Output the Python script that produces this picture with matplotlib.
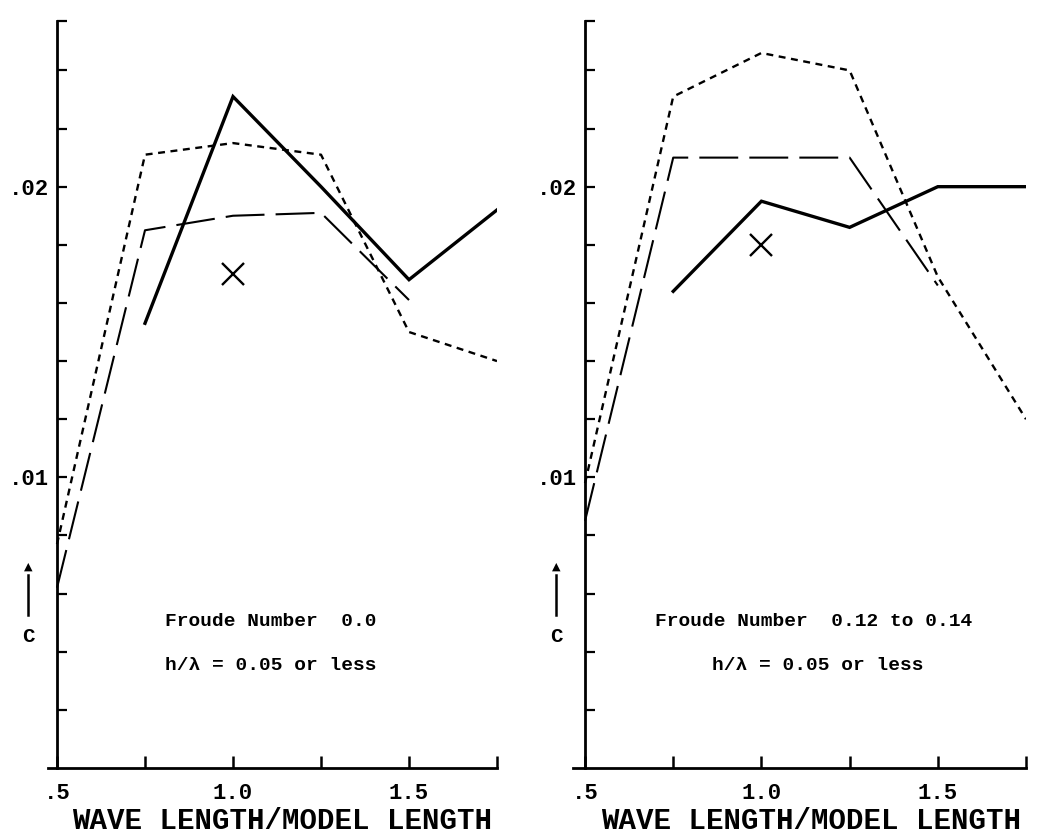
import matplotlib.pyplot as plt
import numpy as np

plt.rcParams['font.family'] = ['Liberation Mono', 'DejaVu Sans']
plt.rcParams['font.weight'] = 'bold'
plt.rcParams['lines.scale_dashes'] = False

# wave length / model length and coefficient C
left_solid_x = [0.75, 1.0, 1.25, 1.5, 1.75]
left_solid_c = [0.0153, 0.0231, 0.0200, 0.0168, 0.0192]
left_dot_x = [0.5, 0.75, 1.0, 1.25, 1.5, 1.75]
left_dot_c = [0.0077, 0.0211, 0.0215, 0.0211, 0.0150, 0.0140]
left_dash_x = [0.5, 0.75, 1.0, 1.25, 1.5]
left_dash_c = [0.0062, 0.0185, 0.0190, 0.0191, 0.0161]
left_cross = (1.0, 0.0170)

right_solid_x = [0.75, 1.0, 1.25, 1.5, 1.75]
right_solid_c = [0.0164, 0.0195, 0.0186, 0.0200, 0.0200]
right_dot_x = [0.5, 0.75, 1.0, 1.25, 1.5, 1.75]
right_dot_c = [0.0098, 0.0231, 0.0246, 0.0240, 0.0169, 0.0120]
right_dash_x = [0.5, 0.75, 1.0, 1.25, 1.5]
right_dash_c = [0.0085, 0.0210, 0.0210, 0.0210, 0.0166]
right_cross = (1.0, 0.0180)

x_ticks = [0.5, 0.75, 1.0, 1.25, 1.5, 1.75]
x_ticklabels = ['.5', '', '1.0', '', '1.5', '']
y_ticks = list(np.arange(0.002, 0.0251, 0.002)) + [0.0257]
y_ticklabels = ['.01' if abs(t - 0.01) < 1e-6 else '.02' if abs(t - 0.02) < 1e-6 else '' for t in y_ticks]

panels = [
    dict(solid=(left_solid_x, left_solid_c), dot=(left_dot_x, left_dot_c),
         dash=(left_dash_x, left_dash_c), cross=left_cross,
         text1='Froude Number  0.0', text2='h/\u03bb = 0.05 or less',
         t1x=165, t2x=165),
    dict(solid=(right_solid_x, right_solid_c), dot=(right_dot_x, right_dot_c),
         dash=(right_dash_x, right_dash_c), cross=right_cross,
         text1='Froude Number  0.12 to 0.14', text2='h/\u03bb = 0.05 or less',
         t1x=655, t2x=712),
]

W, H = 1055, 840
fig = plt.figure(figsize=(W / 100, H / 100), dpi=100)

# pixel layout: (x-axis start, y spine, x-axis end)
layout = [(48, 57, 497), (573, 585, 1026)]
top, bottom = 21, 768
ppu = (497 - 57) / 1.25


def fy(py):
    return 1 - py / H


for p, (x0, xs, x1) in zip(panels, layout):
    ax = fig.add_axes([x0 / W, 1 - bottom / H, (x1 - x0) / W, (bottom - top) / H])
    ax.set_xlim(0.5 - (xs - x0) / ppu, 1.75)
    ax.set_ylim(0, 0.0257)
    ax.spines['left'].set_position(('data', 0.5))
    ax.spines['top'].set_visible(False)
    ax.spines['right'].set_visible(False)
    for s in ['left', 'bottom']:
        ax.spines[s].set_linewidth(2)

    ax.plot(*p['solid'], color='black', lw=2.4, solid_joinstyle='miter')
    ax.plot(*p['dot'], color='black', lw=1.7, linestyle=(0, (5, 4)))
    ax.plot(*p['dash'], color='black', lw=1.5, linestyle=(0, (28, 8)))
    ax.plot(*p['cross'], marker='x', color='black', ms=16, mew=1.7)

    ax.set_xticks(x_ticks)
    ax.set_xticklabels(x_ticklabels, fontsize=16)
    ax.set_yticks(y_ticks)
    ax.set_yticklabels(y_ticklabels, fontsize=16)
    ax.tick_params(axis='x', direction='in', length=9, width=1.8, pad=11)
    ax.tick_params(axis='y', direction='in', length=7.5, width=1.6, pad=6)

    fig.text(p['t1x'] / W, fy(622), p['text1'], fontsize=14, va='center', ha='left')
    fig.text(p['t2x'] / W, fy(666), p['text2'], fontsize=14, va='center', ha='left')

    # C label with arrow
    cx = xs - 29
    fig.add_artist(plt.Line2D([cx / W, cx / W], [fy(615), fy(575)],
                              color='black', lw=1.8))
    fig.text(cx / W, fy(567), '\u25b2', fontsize=8, ha='center', va='center',
             family='DejaVu Sans')
    fig.text(cx / W, fy(637), 'C', fontsize=15, ha='center', va='center')

    fig.text((xs + x1) / 2 / W + 0.005, fy(821), 'WAVE LENGTH/MODEL LENGTH',
             fontsize=21, ha='center', va='center')

fig.savefig('out.png', dpi=100, facecolor='white')
